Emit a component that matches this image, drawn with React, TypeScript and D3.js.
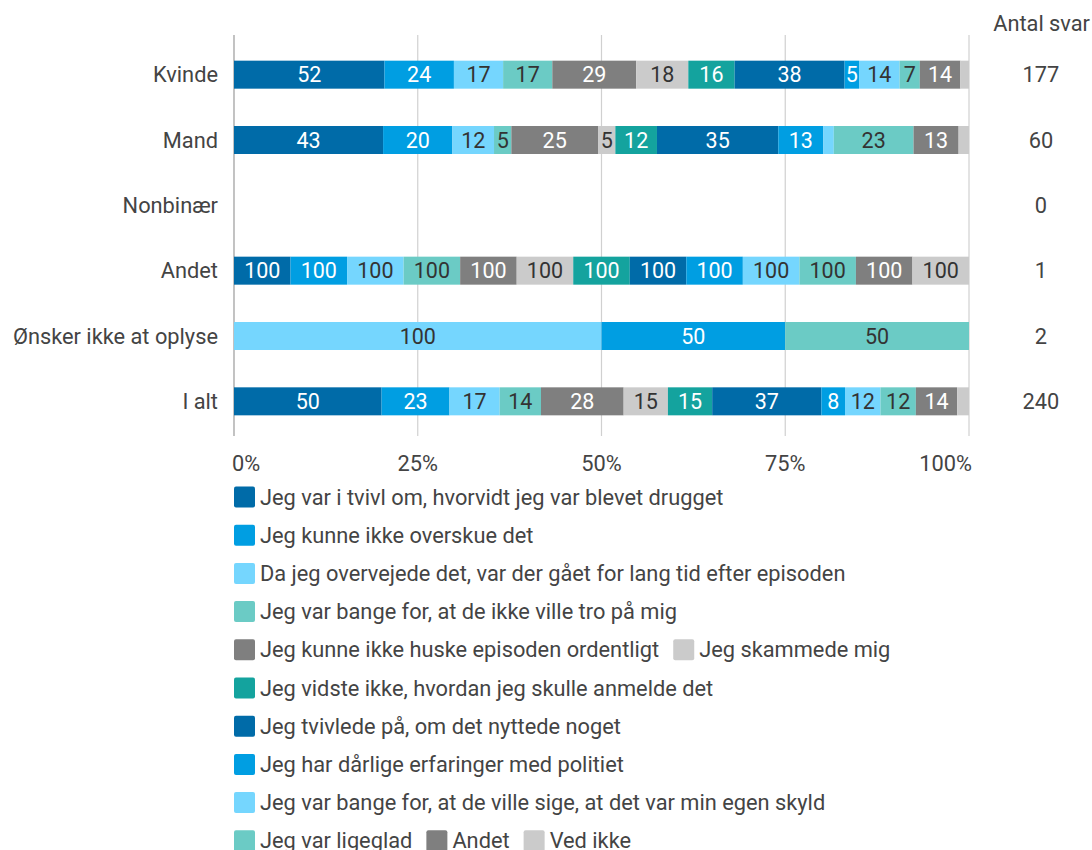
import React, { useEffect, useRef } from 'react';
import * as d3 from 'd3';

const categories = ['Kvinde', 'Mand', 'Nonbinær', 'Andet', 'Ønsker ikke at oplyse', 'I alt'];
const antalSvar = [177, 60, 0, 1, 2, 240];
const antalHeader = 'Antal svar';

const seriesNames = [
  'Jeg var i tvivl om, hvorvidt jeg var blevet drugget',
  'Jeg kunne ikke overskue det',
  'Da jeg overvejede det, var der gået for lang tid efter episoden',
  'Jeg var bange for, at de ikke ville tro på mig',
  'Jeg kunne ikke huske episoden ordentligt',
  'Jeg skammede mig',
  'Jeg vidste ikke, hvordan jeg skulle anmelde det',
  'Jeg tvivlede på, om det nyttede noget',
  'Jeg har dårlige erfaringer med politiet',
  'Jeg var bange for, at de ville sige, at det var min egen skyld',
  'Jeg var ligeglad',
  'Andet',
  'Ved ikke',
];

const seriesColors = [
  '#006ba8', '#009ee2', '#75d6fe', '#6bcbc5', '#7f7f7f', '#cbcbcb', '#14a39e',
  '#006ba8', '#009ee2', '#75d6fe', '#6bcbc5', '#7f7f7f', '#cbcbcb',
];
const whiteText = [true, true, false, false, true, false, true, true, true, false, false, true, false];

// values per series, in category order
const sDrugget = [52, 43, 0, 100, 0, 50];
const sOverskue = [24, 20, 0, 100, 0, 23];
const sLangTid = [17, 12, 0, 100, 100, 17];
const sTro = [17, 5, 0, 100, 0, 14];
const sHuske = [29, 25, 0, 100, 0, 28];
const sSkammede = [18, 5, 0, 100, 0, 15];
const sAnmelde = [16, 12, 0, 100, 0, 15];
const sNyttede = [38, 35, 0, 100, 0, 37];
const sPolitiet = [5, 13, 0, 100, 50, 8];
const sSkyld = [14, 3, 0, 100, 0, 12];
const sLigeglad = [7, 23, 0, 100, 50, 12];
const sAndet = [14, 13, 0, 100, 0, 14];
const sVedIkke = [3, 3, 0, 100, 0, 4];
const seriesValues = [sDrugget, sOverskue, sLangTid, sTro, sHuske, sSkammede, sAnmelde, sNyttede, sPolitiet, sSkyld, sLigeglad, sAndet, sVedIkke];

const tickValues = [0, 0.25, 0.5, 0.75, 1];

const FONT = 'Roboto, "Noto Sans", sans-serif';
const FS = 21.8;
const BAR_FS = 21.5;

export default function App() {
  const ref = useRef<SVGSVGElement | null>(null);

  useEffect(() => {
    const svg = d3.select(ref.current);
    svg.selectAll('*').remove();

    const x = d3.scaleLinear().domain([0, 1]).range([234, 969]);
    const y = d3.scaleBand<string>().domain(categories).range([42, 434]);
    const barH = 28;

    // gridlines
    svg.append('g')
      .selectAll('line')
      .data(tickValues)
      .join('line')
      .attr('x1', d => x(d)).attr('x2', d => x(d))
      .attr('y1', 35).attr('y2', 436)
      .attr('stroke', (d, i) => (i === 0 ? '#9a9a9a' : '#d0d0d0'))
      .attr('stroke-width', 1.2);

    // tick labels
    svg.append('g')
      .selectAll('text')
      .data(tickValues)
      .join('text')
      .attr('x', (d, i) => (i === 0 ? x(d) - 2 : i === tickValues.length - 1 ? x(d) + 3 : x(d)))
      .attr('y', 463)
      .attr('dy', '0.35em')
      .attr('text-anchor', (d, i) => (i === 0 ? 'start' : i === tickValues.length - 1 ? 'end' : 'middle'))
      .attr('font-family', FONT).attr('font-size', FS).attr('fill', '#444')
      .text(d => d3.format('.0%')(d));

    // category labels
    svg.append('g')
      .selectAll('text')
      .data(categories)
      .join('text')
      .attr('x', 218)
      .attr('y', d => (y(d) as number) + y.bandwidth() / 2)
      .attr('dy', '0.35em')
      .attr('text-anchor', 'end')
      .attr('font-family', FONT).attr('font-size', FS).attr('fill', '#444')
      .text(d => d);

    // antal svar
    svg.append('text')
      .attr('x', 1090).attr('y', 23).attr('dy', '0.35em')
      .attr('text-anchor', 'end')
      .attr('font-family', FONT).attr('font-size', FS).attr('fill', '#444')
      .text(antalHeader);
    svg.append('g')
      .selectAll('text')
      .data(categories)
      .join('text')
      .attr('x', 1041)
      .attr('y', d => (y(d) as number) + y.bandwidth() / 2)
      .attr('dy', '0.35em')
      .attr('text-anchor', 'middle')
      .attr('font-family', FONT).attr('font-size', FS).attr('fill', '#444')
      .text((d, i) => String(antalSvar[i]));

    // bars
    const barsG = svg.append('g');
    categories.forEach((cat, ci) => {
      const total = d3.sum(seriesValues, s => s[ci]);
      if (total <= 0) return;
      let cum = 0;
      const yc = (y(cat) as number) + y.bandwidth() / 2;
      seriesValues.forEach((s, si) => {
        const v = s[ci];
        if (!v) return;
        const x0 = x(cum / total);
        const x1 = x((cum + v) / total);
        cum += v;
        barsG.append('rect')
          .attr('x', x0).attr('y', yc - barH / 2)
          .attr('width', x1 - x0).attr('height', barH)
          .attr('fill', seriesColors[si]);
        const t = barsG.append('text')
          .attr('x', (x0 + x1) / 2).attr('y', yc).attr('dy', '0.36em')
          .attr('text-anchor', 'middle')
          .attr('font-family', FONT).attr('font-size', BAR_FS)
          .attr('fill', whiteText[si] ? '#ffffff' : '#333333')
          .text(String(v));
        const tw = (t.node() as SVGTextElement).getComputedTextLength();
        if (tw > x1 - x0 - 1) t.remove();
      });
    });

    // legend (flow layout)
    const legendG = svg.append('g');
    const left = 234;
    const maxRight = 969;
    const rowStep = 38.2;
    let lx = left;
    let ly = 497;
    seriesNames.forEach((name, i) => {
      const item = legendG.append('g');
      item.append('rect')
        .attr('x', 0).attr('y', -10.5).attr('width', 21).attr('height', 21)
        .attr('rx', 2).attr('fill', seriesColors[i]);
      const t = item.append('text')
        .attr('x', 26).attr('y', 0).attr('dy', '0.35em')
        .attr('font-family', FONT).attr('font-size', FS).attr('fill', '#444')
        .text(name);
      const w = 26 + (t.node() as SVGTextElement).getComputedTextLength();
      if (lx > left && lx + w > maxRight) {
        lx = left;
        ly += rowStep;
      }
      item.attr('transform', `translate(${lx},${ly})`);
      lx += w + 14;
    });
  }, []);

  return (
    <svg
      ref={ref}
      width={1092}
      height={850}
      style={{ position: 'absolute', left: 0, top: 0, background: '#fff' }}
    />
  );
}
